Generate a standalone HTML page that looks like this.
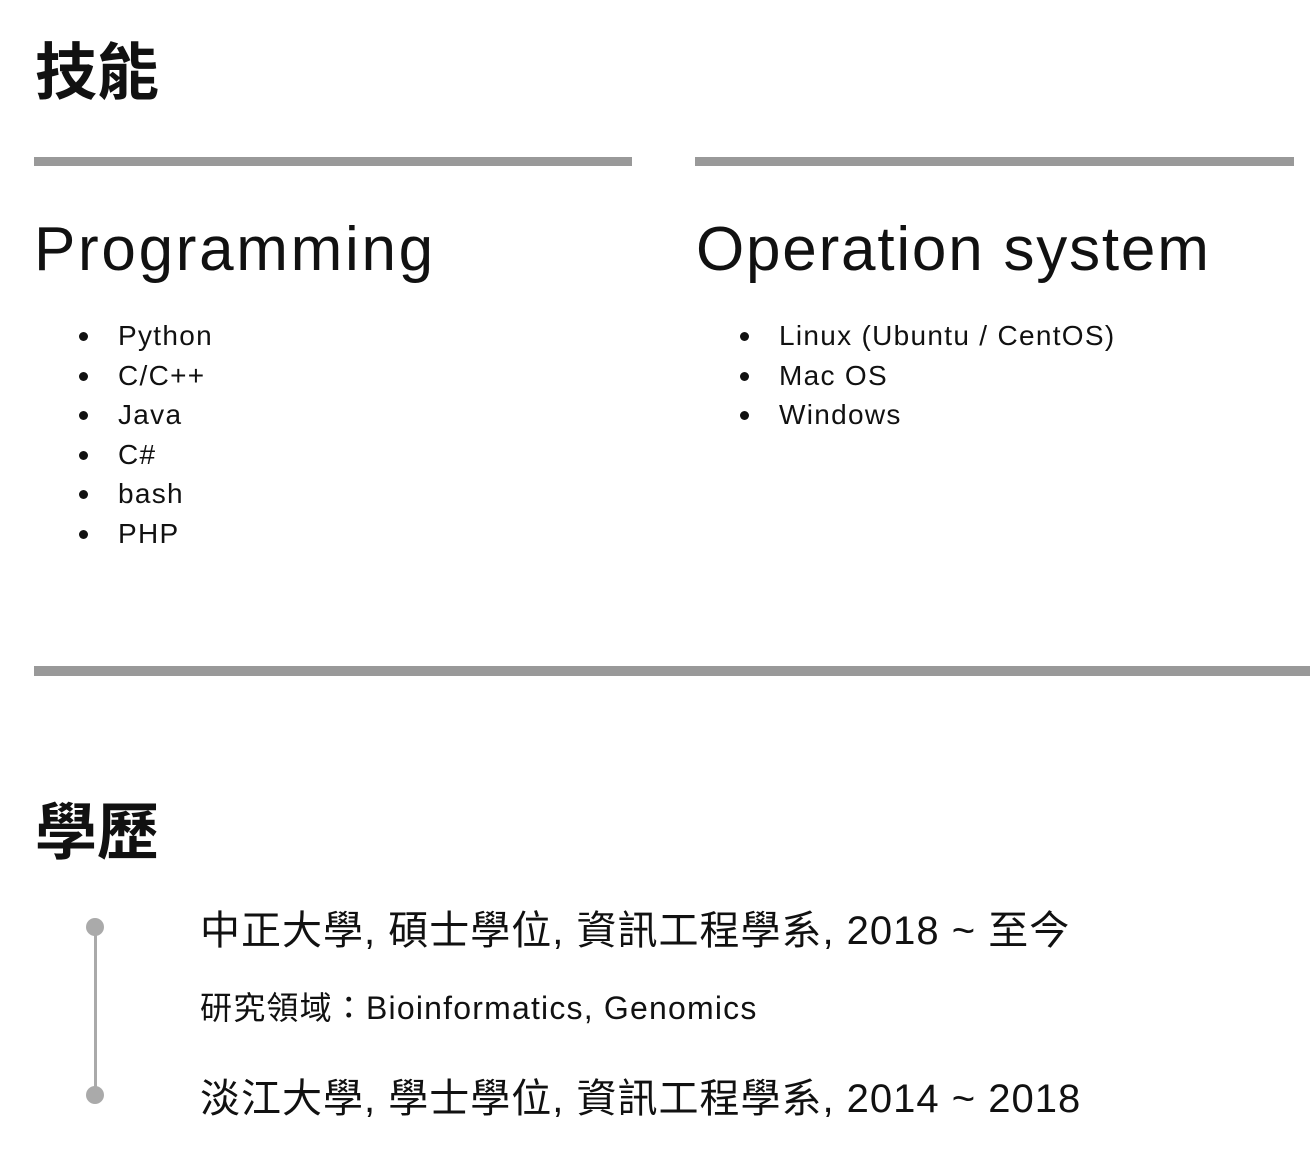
<!DOCTYPE html>
<html><head><meta charset="utf-8"><style>
body{margin:0;width:1310px;height:1158px;background:#fff;position:relative;overflow:hidden;font-family:"Liberation Sans","Noto Sans CJK TC",sans-serif;color:#111}
.a{position:absolute;white-space:nowrap}
.bar{position:absolute;background:#999;height:9px}
h1{position:absolute;margin:0;font-size:62px;font-weight:bold;line-height:1;font-family:"Noto Sans CJK TC",sans-serif}
.h2{font-size:62px;line-height:1}
ul{position:absolute;margin:0;padding:0;list-style:none;font-size:28px;letter-spacing:1.3px}
li{height:39.5px;line-height:39.5px;position:relative;padding-left:39px}
li:before{content:"";position:absolute;left:0;top:16px;width:9px;height:9px;border-radius:50%;background:#111}
</style></head><body>
<h1 style="left:35px;top:36px">技能</h1>
<div class="bar" style="left:34px;top:157px;width:598px"></div>
<div class="bar" style="left:695px;top:157px;width:599px"></div>
<div class="a h2" style="left:34px;top:219px;letter-spacing:2.7px">Programming</div>
<div class="a h2" style="left:696px;top:219px;letter-spacing:1.8px">Operation system</div>
<ul style="left:79px;top:316px"><li>Python</li><li>C/C++</li><li>Java</li><li>C#</li><li>bash</li><li>PHP</li></ul>
<ul style="left:740px;top:316px"><li>Linux (Ubuntu / CentOS)</li><li>Mac OS</li><li>Windows</li></ul>
<div class="bar" style="left:34px;top:666px;width:1276px;height:10px"></div>
<h1 style="left:35px;top:796px">學歷</h1>
<div class="a" style="left:94px;top:927px;width:3px;height:168px;background:#aaa"></div>
<div class="a" style="left:86px;top:918px;width:18px;height:18px;border-radius:50%;background:#aaa"></div>
<div class="a" style="left:86px;top:1086px;width:18px;height:18px;border-radius:50%;background:#aaa"></div>
<div class="a" style="left:200px;top:906px;font-size:40px;line-height:50px;letter-spacing:1px">中正大學, 碩士學位, 資訊工程學系, 2018 ~ 至今</div>
<div class="a" style="left:200px;top:988px;font-size:32px;line-height:40px;letter-spacing:1.2px">研究領域：Bioinformatics, Genomics</div>
<div class="a" style="left:200px;top:1074px;font-size:40px;line-height:50px;letter-spacing:1px">淡江大學, 學士學位, 資訊工程學系, 2014 ~ 2018</div>
</body></html>
